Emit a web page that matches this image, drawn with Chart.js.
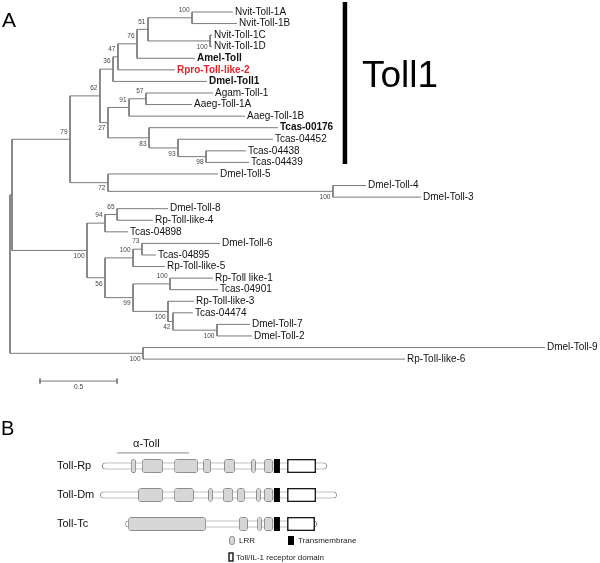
<!DOCTYPE html>
<html><head><meta charset="utf-8">
<script src="https://cdn.jsdelivr.net/npm/chart.js@4.4.1/dist/chart.umd.min.js"></script>
<style>
html,body{margin:0;padding:0;background:#fff;}
#wrap{position:relative;width:600px;height:563px;}
#wrap canvas{position:absolute;left:0;top:0;}
</style></head><body>
<div id="wrap"><canvas id="tree" width="600" height="563"></canvas><canvas id="dom" width="600" height="563"></canvas></div>
<script>
// ================= Panel A : phylogeny (distances in substitutions/site) =================
const taxa = ['Nvit-Toll-1A','Nvit-Toll-1B','Nvit-Toll-1C','Nvit-Toll-1D','Amel-Toll','Rpro-Toll-like-2','Dmel-Toll1',
  'Agam-Toll-1','Aaeg-Toll-1A','Aaeg-Toll-1B','Tcas-00176','Tcas-04452','Tcas-04438','Tcas-04439','Dmel-Toll-5',
  'Dmel-Toll-4','Dmel-Toll-3','Dmel-Toll-8','Rp-Toll-like-4','Tcas-04898','Dmel-Toll-6','Tcas-04895','Rp-Toll-like-5',
  'Rp-Toll like-1','Tcas-04901','Rp-Toll-like-3','Tcas-04474','Dmel-Toll-7','Dmel-Toll-2','Dmel-Toll-9','Rp-Toll-like-6'];
// distance of each tip from the root
const tipDepth = [1.448,1.474,1.312,1.312,1.201,1.071,1.279,1.318,1.182,1.526,1.740,1.708,1.532,1.552,1.351,
  2.312,2.669,1.026,0.929,0.766,1.364,0.948,1.006,1.318,1.351,1.195,1.188,1.558,1.571,3.474,2.565];
// internal nodes (ids start after the tips); children refer to tip index or node id
const nodeKids = [[0,1],[2,3],[31,32],[33,4],[34,5],[35,6],[7,8],[37,9],[12,13],[11,39],[10,40],[38,41],[36,42],
  [15,16],[14,44],[43,45],[17,18],[47,19],[20,21],[49,22],[23,24],[27,28],[26,52],[25,53],[51,54],[50,55],[48,56],
  [46,57],[29,30],[58,59]];
const nodeDepth = [1.182,1.299,0.896,0.825,0.701,0.669,0.883,0.773,1.273,1.091,0.903,0.636,0.584,2.097,0.636,0.390,
  0.695,0.617,0.857,0.799,1.039,1.344,1.058,1.026,0.799,0.617,0.500,0.013,0.864,0];
const nodeSupport = [100,100,51,76,47,36,57,91,98,93,83,27,62,100,72,79,65,94,73,100,100,100,42,100,99,56,100,null,100,null];
const boldTaxa = ['Amel-Toll','Dmel-Toll1','Tcas-00176'];
const highlightTaxa = ['Rpro-Toll-like-2'];
const toll1Clade = [0,13];          // first and last tip of the Toll1 group
const scaleBarLength = 0.5;

// ================= Panel B : domain architecture (residue positions) =================
const proteins = ['Toll-Rp','Toll-Dm','Toll-Tc'];
const proteinSpan = [[9,1051],[0,1097],[116,1005]];
const lrrDomains = [
  [[143,167],[194,292],[343,454],[477,514],[574,625],[699,722],[759,801]],
  [[176,292],[343,435],[500,523],[569,616],[634,671],[722,745],[759,801]],
  [[130,491],[643,685],[727,750],[759,801]]
];
const tmDomain  = [[805,833],[805,833],[805,833]];
const tirDomain = [[866,1000],[866,1000],[866,995]];
const alphaTollRegion = [79,412];

// ---------------- layout helpers ----------------
const F = '"Liberation Sans", Arial, Helvetica, sans-serif';
const nTaxa = taxa.length;
const depth = id => id < nTaxa ? tipDepth[id] : nodeDepth[id - nTaxa];
const pos = {};
function place(id){
  if (id < nTaxa) return (pos[id] = id);
  const ys = nodeKids[id - nTaxa].map(place);
  return (pos[id] = (ys[0] + ys[ys.length-1]) / 2);
}
const rootId = nTaxa + nodeKids.length - 1;
place(rootId);
const parentOf = {};
nodeKids.forEach((k,i)=>k.forEach(c=>parentOf[c]=nTaxa+i));

const treeSegs = [];
nodeKids.forEach((kids,i)=>{
  const d = nodeDepth[i];
  const a = kids[0], b = kids[kids.length-1];
  treeSegs.push({x:depth(a),y:pos[a]},{x:d,y:pos[a]},{x:d,y:pos[b]},{x:depth(b),y:pos[b]},{x:null,y:null});
});
const sbStart = 0.195, sbY = 31.9;
const scaleBar = [
  {x:sbStart,y:sbY},{x:sbStart+scaleBarLength,y:sbY},{x:null,y:null},
  {x:sbStart,y:sbY-0.22},{x:sbStart,y:sbY+0.22},{x:null,y:null},
  {x:sbStart+scaleBarLength,y:sbY-0.22},{x:sbStart+scaleBarLength,y:sbY+0.22}
];
const barX = 2.175;
const toll1Bar = [{x:barX,y:toll1Clade[0]-0.86},{x:barX,y:toll1Clade[1]+0.14}];

const treeText = {
  id:'treeText',
  afterDatasetsDraw(chart){
    const {ctx, scales:{x,y}} = chart;
    ctx.save();
    ctx.textBaseline = 'middle';
    ctx.textAlign = 'left';
    taxa.forEach((name,i)=>{
      const hi = highlightTaxa.includes(name);
      const bold = hi || boldTaxa.includes(name);
      ctx.font = (bold ? 'bold ' : '') + '10px ' + F;
      ctx.fillStyle = hi ? '#e3262b' : '#111';
      ctx.fillText(name, x.getPixelForValue(tipDepth[i]) + 2, y.getPixelForValue(pos[i]));
    });
    ctx.font = '6.5px ' + F;
    ctx.fillStyle = '#444';
    ctx.textAlign = 'right';
    nodeSupport.forEach((s,k)=>{
      if (s == null) return;
      const id = nTaxa + k;
      const p = parentOf[id];
      const upper = p !== undefined && nodeKids[p - nTaxa][0] === id;
      ctx.fillText(String(s), x.getPixelForValue(nodeDepth[k]) - 2.5, y.getPixelForValue(pos[id]) + (upper ? -7.5 : 6));
    });
    ctx.textAlign = 'center';
    ctx.fillText(String(scaleBarLength), x.getPixelForValue(sbStart + scaleBarLength/2), y.getPixelForValue(sbY) + 6.5);
    // Toll1 label
    ctx.textAlign = 'left';
    ctx.textBaseline = 'alphabetic';
    ctx.fillStyle = '#000';
    ctx.font = '37px ' + F;
    ctx.fillText('Toll1', x.getPixelForValue(barX) + 17, y.getPixelForValue(6.5));
    ctx.font = '21px ' + F;
    ctx.fillText('A', 2, 27);
    ctx.restore();
  }
};

new Chart(document.getElementById('tree'), {
  type:'scatter',
  data:{datasets:[
    {data:treeSegs, showLine:true, borderColor:'#7a7a7a', borderWidth:1, pointRadius:0, spanGaps:false},
    {data:scaleBar, showLine:true, borderColor:'#7a7a7a', borderWidth:1, pointRadius:0, spanGaps:false},
    {data:toll1Bar, showLine:true, borderColor:'#000', borderWidth:4.5, pointRadius:0, borderCapStyle:'butt'}
  ]},
  options:{
    responsive:false, animation:false, devicePixelRatio:1,
    layout:{padding:0},
    plugins:{legend:{display:false}, tooltip:{enabled:false}},
    events:[],
    scales:{
      x:{type:'linear', display:false, min:-0.0649, max:3.8312, offset:false},
      y:{type:'linear', display:false, min:-1.0372, max:47.623, reverse:true, offset:false}
    }
  },
  plugins:[treeText]
});

// ---------------- Panel B ----------------
const rowData = (arr) => arr.map((s,r)=>({x:s, y:r}));
const lrrData = [];
lrrDomains.forEach((list,r)=>list.forEach(s=>lrrData.push({x:s,y:r})));

const domText = {
  id:'domText',
  afterDatasetsDraw(chart){
    const {ctx, scales:{x,y}} = chart;
    ctx.save();
    ctx.fillStyle = '#000';
    ctx.font = '20px ' + F;
    ctx.textBaseline = 'alphabetic';
    ctx.fillText('B', 1, 435);
    ctx.textBaseline = 'middle';
    ctx.font = '11px ' + F;
    ctx.fillStyle = '#111';
    proteins.forEach((p,r)=>ctx.fillText(p, 57, y.getPixelForValue(r)));
    // alpha-Toll antibody region
    ctx.font = '11px ' + F;
    ctx.fillText('\u03B1-Toll', x.getPixelForValue(alphaTollRegion[0]) + 16, y.getPixelForValue(-0.76));
    // legend
    ctx.font = '8px ' + F;
    ctx.fillStyle = '#d6d6d6'; ctx.strokeStyle = '#8c8c8c'; ctx.lineWidth = 1;
    ctx.beginPath(); ctx.roundRect(229.5, 536.5, 5, 8, 2); ctx.fill(); ctx.stroke();
    ctx.fillStyle = '#000';
    ctx.fillRect(288, 536, 6, 9);
    ctx.fillStyle = '#fff'; ctx.strokeStyle = '#111'; ctx.lineWidth = 1.4;
    ctx.fillRect(229, 553, 4, 8); ctx.strokeRect(229, 553, 4, 8);
    ctx.fillStyle = '#222';
    ctx.fillText('LRR', 239, 541);
    ctx.fillText('Transmembrane', 298, 541);
    ctx.fillText('Toll/IL-1 receptor domain', 236, 557.5);
    ctx.restore();
  }
};

new Chart(document.getElementById('dom'), {
  type:'scatter',
  data:{datasets:[
    {type:'line', data:[{x:alphaTollRegion[0],y:-0.45},{x:alphaTollRegion[1],y:-0.45}], borderColor:'#8a8a8a', borderWidth:1, pointRadius:0, order:0},
    {type:'bar', indexAxis:'y', data:rowData(tmDomain), backgroundColor:'#000', borderWidth:0, barThickness:14, grouped:false, borderSkipped:false, inflateAmount:0, order:1},
    {type:'bar', indexAxis:'y', data:rowData(tirDomain), backgroundColor:'#fff', borderColor:'#1a1a1a', borderWidth:1.6, barThickness:14, grouped:false, borderSkipped:false, inflateAmount:0, order:1},
    {type:'bar', indexAxis:'y', data:lrrData, backgroundColor:'#d6d6d6', borderColor:'#8e8e8e', borderWidth:1, borderRadius:3, barThickness:14, grouped:false, borderSkipped:false, inflateAmount:0, order:2},
    {type:'bar', indexAxis:'y', data:rowData(proteinSpan), backgroundColor:'#fff', borderColor:'#858585', borderWidth:1, borderRadius:3.5, barThickness:7, grouped:false, borderSkipped:false, inflateAmount:0, order:3}
  ]},
  options:{
    responsive:false, animation:false, devicePixelRatio:1,
    layout:{padding:0},
    plugins:{legend:{display:false}, tooltip:{enabled:false}},
    events:[],
    scales:{
      x:{type:'linear', display:false, min:-462.9, max:2314.5, offset:false},
      y:{type:'linear', display:false, min:-16.069, max:3.3448, reverse:true, offset:false}
    }
  },
  plugins:[domText]
});
</script>
</body></html>
